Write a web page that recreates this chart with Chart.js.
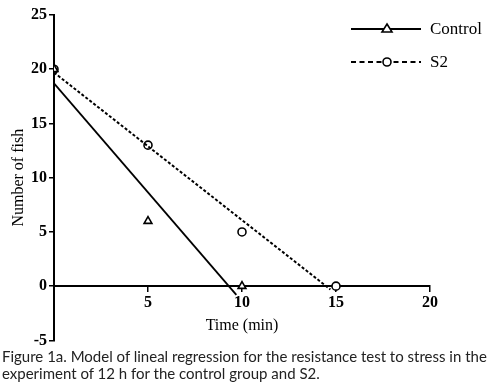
<!DOCTYPE html>
<html>
<head>
<meta charset="utf-8">
<script src="https://cdn.jsdelivr.net/npm/chart.js@4.4.1/dist/chart.umd.min.js"></script>
<style>
  html, body { margin: 0; padding: 0; background: #fff; }
  #wrap { width: 488px; height: 352px; position: relative; }
  #caption {
    font-family: Lato, sans-serif;
    font-size: 15px;
    line-height: 17px;
    color: #222;
    margin: -4px 0 0 2px;
    width: 486px;
    position: relative;
  }
</style>
</head>
<body>
<div id="wrap"><canvas id="chart" width="488" height="352"></canvas></div>
<div id="caption">Figure 1a. Model of lineal regression for the resistance test to stress in the experiment of 12 h for the control group and S2.</div>
<script>
// observed points
const timeMin = [0, 5, 10, 15];
const controlFish = [20, 6, 0];
const s2Fish = [20, 13, 5, 0];

// regression lines (endpoints)
const controlFitX = [0, 9.7];
const controlFitY = [18.7, -0.8];
const s2FitX = [0, 14.7];
const s2FitY = [19.7, -0.3];

const xTicks = [0, 5, 10, 15, 20];
const yTicks = [-5, 0, 5, 10, 15, 20, 25];

function pts(xs, ys) {
  return ys.map((y, i) => ({ x: xs[i], y: y }));
}

// hand drawn legend: line + marker + label, like the original figure
const legendPlugin = {
  id: 'figLegend',
  afterDraw(chart) {
    const ctx = chart.ctx;
    const items = [
      { label: 'Control', dash: [], marker: 'triangle', y: 29 },
      { label: 'S2', dash: [5, 3.5], marker: 'circle', y: 62 },
    ];
    ctx.save();
    items.forEach(it => {
      ctx.strokeStyle = '#000';
      ctx.lineWidth = 1.8;
      ctx.setLineDash(it.dash);
      ctx.beginPath();
      ctx.moveTo(351, it.y);
      ctx.lineTo(421, it.y);
      ctx.stroke();
      ctx.setLineDash([]);
      ctx.fillStyle = '#fff';
      ctx.lineWidth = 1.6;
      ctx.beginPath();
      if (it.marker === 'triangle') {
        ctx.moveTo(387, it.y - 5);
        ctx.lineTo(392, it.y + 3);
        ctx.lineTo(382, it.y + 3);
        ctx.closePath();
      } else {
        ctx.arc(387, it.y, 4, 0, Math.PI * 2);
      }
      ctx.fill();
      ctx.stroke();
      ctx.fillStyle = '#000';
      ctx.font = '17px "Liberation Serif", serif';
      ctx.textBaseline = 'middle';
      ctx.fillText(it.label, 430, it.y + 1);
    });
    ctx.restore();
  }
};

const ctx = document.getElementById('chart').getContext('2d');
new Chart(ctx, {
  type: 'scatter',
  data: {
    datasets: [
      {
        label: 'Control fit',
        data: pts(controlFitX, controlFitY),
        showLine: true,
        borderColor: '#000',
        borderWidth: 1.8,
        pointRadius: 0,
      },
      {
        label: 'S2 fit',
        data: pts(s2FitX, s2FitY),
        showLine: true,
        borderColor: '#000',
        borderWidth: 2,
        borderDash: [3, 2],
        pointRadius: 0,
      },
      {
        label: 'Control',
        data: pts(timeMin, controlFish),
        pointStyle: 'triangle',
        pointRadius: 4.5,
        pointBorderWidth: 1.6,
        borderColor: '#000',
        backgroundColor: '#fff',
      },
      {
        label: 'S2',
        data: pts(timeMin, s2Fish),
        pointStyle: 'circle',
        pointRadius: 4,
        pointBorderWidth: 1.6,
        borderColor: '#000',
        backgroundColor: '#fff',
      },
    ],
  },
  options: {
    responsive: false,
    animation: false,
    layout: { padding: { top: 15, right: 58, bottom: 2, left: 0 } },
    plugins: {
      legend: { display: false },
      tooltip: { enabled: false },
    },
    scales: {
      x: {
        type: 'linear',
        position: { y: 0 },
        min: 0,
        max: 20,
        afterBuildTicks: s => { s.ticks = xTicks.map(v => ({ value: v })); },
        ticks: {
          color: '#000',
          font: { family: '"Liberation Serif", serif', size: 16, weight: 'bold' },
          padding: 2,
          callback: v => (v === 0 ? '' : v),
        },
        grid: { display: true, drawOnChartArea: false, drawTicks: true, tickLength: 5, color: '#000', lineWidth: 1.5 },
        border: { display: true, color: '#000', width: 2 },
        title: {
          display: true,
          text: 'Time (min)',
          color: '#000',
          font: { family: '"Liberation Serif", serif', size: 16 },
          padding: { top: 2 },
        },
      },
      y: {
        type: 'linear',
        min: -5,
        max: 25,
        afterBuildTicks: s => { s.ticks = yTicks.map(v => ({ value: v })); },
        afterFit: s => { s.width = 54; },
        ticks: {
          color: '#000',
          font: { family: '"Liberation Serif", serif', size: 16, weight: 'bold' },
          padding: 2,
        },
        grid: { display: true, drawOnChartArea: false, drawTicks: true, tickLength: 5, color: '#000', lineWidth: 1.5 },
        border: { display: true, color: '#000', width: 2 },
        title: {
          display: true,
          text: 'Number of fish',
          color: '#000',
          font: { family: '"Liberation Serif", serif', size: 16 },
          padding: { top: 9, bottom: 0 },
        },
      },
    },
  },
  plugins: [legendPlugin],
});
</script>
</body>
</html>
